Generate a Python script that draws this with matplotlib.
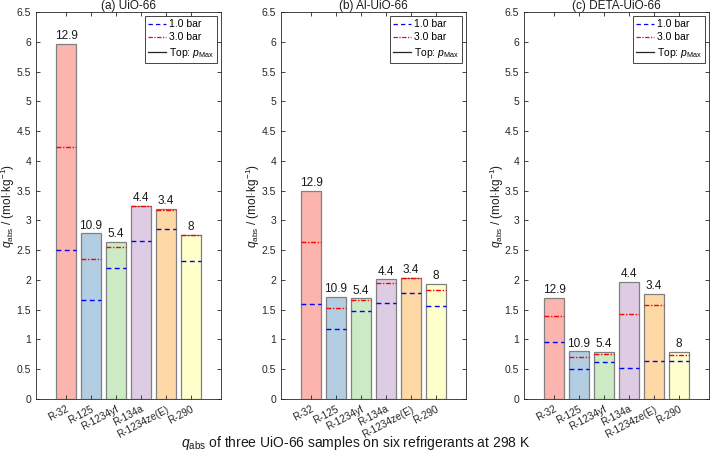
import matplotlib.pyplot as plt
from matplotlib.lines import Line2D
import numpy as np

plt.rcParams['font.family'] = ['Liberation Sans', 'DejaVu Sans']
plt.rcParams['mathtext.fontset'] = 'custom'
plt.rcParams['mathtext.it'] = 'Liberation Sans:italic'
plt.rcParams['mathtext.rm'] = 'Liberation Sans'

refrigerants = ['R-32', 'R-125', 'R-1234yf', 'R-134a', 'R-1234ze(E)', 'R-290']
p_max = ['12.9', '10.9', '5.4', '4.4', '3.4', '8']
colors = ['#fbb4ae', '#b3cde3', '#ccebc5', '#decbe4', '#fed9a6', '#ffffcc']

titles = ['(a) UiO-66', '(b) Al-UiO-66', '(c) DETA-UiO-66']

# adsorbed amount at p_max (bar top), 3.0 bar and 1.0 bar
top_uio = [5.97, 2.78, 2.64, 3.25, 3.19, 2.76]
bar3_uio = [4.24, 2.35, 2.55, 3.24, 3.18, 2.75]
bar1_uio = [2.50, 1.67, 2.20, 2.65, 2.85, 2.31]

top_al = [3.50, 1.72, 1.69, 2.01, 2.04, 1.93]
bar3_al = [2.63, 1.53, 1.66, 1.95, 2.03, 1.83]
bar1_al = [1.59, 1.18, 1.47, 1.61, 1.78, 1.57]

top_deta = [1.70, 0.80, 0.79, 1.97, 1.76, 0.79]
bar3_deta = [1.39, 0.70, 0.75, 1.43, 1.58, 0.74]
bar1_deta = [0.95, 0.50, 0.62, 0.52, 0.64, 0.63]

panels = [(top_uio, bar3_uio, bar1_uio),
          (top_al, bar3_al, bar1_al),
          (top_deta, bar3_deta, bar1_deta)]

fig = plt.figure(figsize=(7.11, 4.59), dpi=100)
lefts = [36 / 711, 281 / 711, 524 / 711]
x = np.arange(1, len(refrigerants) + 1)
w = 0.8
dash1 = (0, (3.5, 2.5))
dash3 = (0, (3.5, 1.2, 1, 1.2))

for i, (top, b3, b1) in enumerate(panels):
    ax = fig.add_axes([lefts[i], 60 / 459, 185 / 711, 387 / 459])
    ax.bar(x, top, width=w, color=colors, edgecolor='#808080', linewidth=0.9)
    ax.hlines(b1, x - w / 2, x + w / 2, colors='#0000ff', linestyles=dash1, linewidth=1.0)
    ax.hlines(b3, x - w / 2, x + w / 2, colors='#ff0000', linestyles=dash3, linewidth=1.0)
    for xi, t, lab in zip(x, top, p_max):
        ax.text(xi, t + 0.03, lab, ha='center', va='bottom', fontsize=8.5, color='#1a1a1a')
    ax.set_xlim(-0.2, 7.2)
    ax.set_ylim(0, 6.5)
    ax.set_yticks(np.arange(0, 6.51, 0.5))
    ax.set_yticklabels(['0', '0.5', '1', '1.5', '2', '2.5', '3', '3.5', '4', '4.5', '5', '5.5', '6', '6.5'])
    ax.set_xticks(x)
    ax.set_xticklabels(refrigerants, rotation=28, ha='right', rotation_mode='anchor', fontsize=7.2)
    ax.tick_params(direction='in', top=True, right=True, labelsize=7.5, colors='#262626',
                   length=3, width=0.6)
    ax.tick_params(axis='x', labelsize=7.2)
    for s in ax.spines.values():
        s.set_color('#262626')
        s.set_linewidth(0.6)
    ax.set_title(titles[i], fontsize=8.5, pad=2, color='#1a1a1a')
    ax.set_ylabel(r'$q_{\rm abs}$ / (mol·kg$^{-1}$)', fontsize=8.5, color='#1a1a1a')
    ax.yaxis.set_label_coords(-0.10, 0.5)
    handles = [Line2D([], [], color='#0000ff', linestyle=dash1, linewidth=0.9),
               Line2D([], [], color='#ff0000', linestyle=dash3, linewidth=0.9),
               Line2D([], [], color='#262626', linewidth=0.9)]
    leg = ax.legend(handles, ['1.0 bar', '3.0 bar', r'Top: $p_{\rm Max}$'], loc='upper right',
                    fontsize=7.5, fancybox=False, framealpha=1, edgecolor='#262626',
                    handlelength=1.7, handletextpad=0.3, borderpad=0.3, labelspacing=0.3,
                    borderaxespad=0.4)
    leg.get_frame().set_linewidth(0.6)

fig.text(0.5, 1 - 443 / 459, r'$q_{\rm abs}$ of three UiO-66 samples on six refrigerants at 298 K',
         ha='center', va='center', fontsize=10, color='#1a1a1a')

fig.savefig('out.png', dpi=100)
